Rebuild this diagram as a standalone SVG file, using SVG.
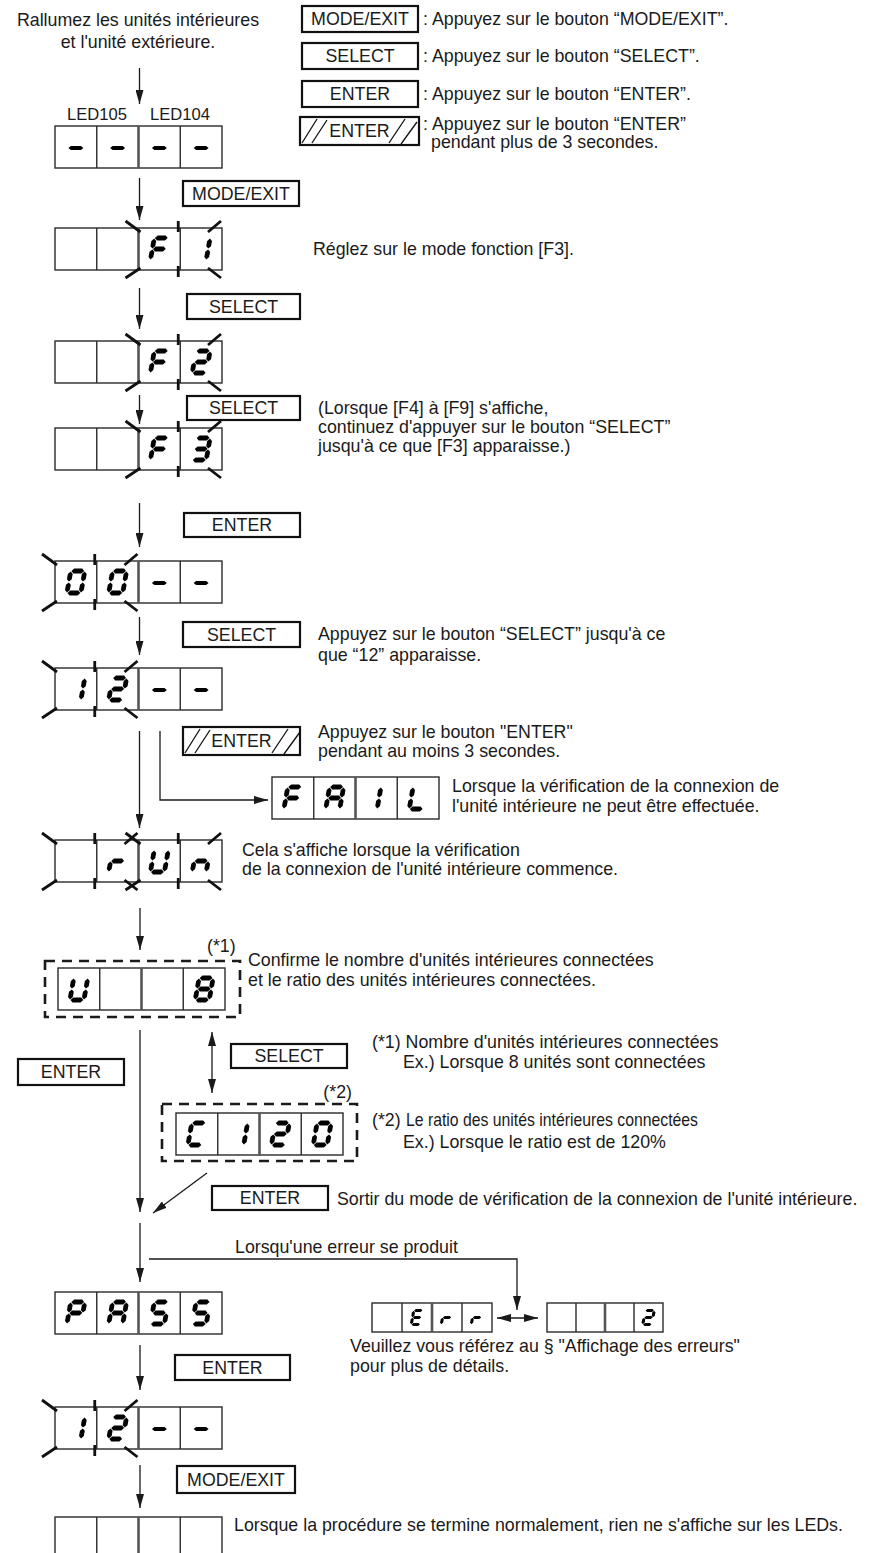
<svg xmlns="http://www.w3.org/2000/svg" xmlns:xlink="http://www.w3.org/1999/xlink" width="869" height="1553" viewBox="0 0 869 1553">
<style>
text{font-family:"Liberation Sans",Arial,Helvetica,sans-serif;font-size:17.8px;fill:#1a1a1a}
.c{text-anchor:middle}
.e{text-anchor:end}
.box{fill:#fff;stroke:#2a2a2a;stroke-width:1.4}
.dv{stroke:#2a2a2a;stroke-width:1.4;fill:none}
.dv2{stroke:#555;stroke-width:2.6;fill:none}
.btn{fill:#fff;stroke:#111;stroke-width:2.2}
.hat{stroke:#111;stroke-width:1.3;fill:none}
.ray{stroke:#111;stroke-width:2.8;fill:none}
.ln{fill:none;stroke:#1a1a1a;stroke-width:1.3}
.dash{fill:none;stroke:#1a1a1a;stroke-width:2.6;stroke-dasharray:10 7}
.seg{fill:#000}
</style>
<defs>
<marker id="ah" viewBox="0 0 14 8" refX="14" refY="4" markerWidth="14" markerHeight="8" markerUnits="userSpaceOnUse" orient="auto-start-reverse"><path d="M0 0L14 4L0 8z" fill="#1a1a1a"/></marker>
<path id="sa" d="M0.6 0L3 -2.4H11L13.4 0L11 2.4H3Z"/>
<path id="sg" d="M0.6 11L3 8.6H11L13.4 11L11 13.4H3Z"/>
<path id="sd" d="M0.6 22L3 19.6H11L13.4 22L11 24.4H3Z"/>
<path id="sf" d="M0 0.6L2.4 3V8.2L0 10.6L-2.4 8.2V3Z"/>
<path id="se" d="M0 11.4L2.4 13.8V19L0 21.4L-2.4 19V13.8Z"/>
<path id="sb" d="M14 0.6L16.4 3V8.2L14 10.6L11.6 8.2V3Z"/>
<path id="sc" d="M14 11.4L16.4 13.8V19L14 21.4L11.6 19V13.8Z"/>
<g id="gF" class="seg" transform="skewX(-10)"><use href="#sa"/><use href="#sf"/><use href="#se"/><use href="#sg"/></g>
<g id="g1" class="seg" transform="skewX(-10)"><use href="#sb"/><use href="#sc"/></g>
<g id="g2" class="seg" transform="skewX(-10)"><use href="#sa"/><use href="#sb"/><use href="#sg"/><use href="#se"/><use href="#sd"/></g>
<g id="g3" class="seg" transform="skewX(-10)"><use href="#sa"/><use href="#sb"/><use href="#sg"/><use href="#sc"/><use href="#sd"/></g>
<g id="g0" class="seg" transform="skewX(-10)"><use href="#sa"/><use href="#sb"/><use href="#sc"/><use href="#sd"/><use href="#se"/><use href="#sf"/></g>
<g id="gP" class="seg" transform="skewX(-10)"><use href="#sa"/><use href="#sb"/><use href="#sf"/><use href="#sg"/><use href="#se"/></g>
<g id="gA" class="seg" transform="skewX(-10)"><use href="#sa"/><use href="#sb"/><use href="#sc"/><use href="#se"/><use href="#sf"/><use href="#sg"/></g>
<g id="gS" class="seg" transform="skewX(-10)"><use href="#sa"/><use href="#sf"/><use href="#sg"/><use href="#sc"/><use href="#sd"/></g>
<g id="gU" class="seg" transform="skewX(-10)"><use href="#sb"/><use href="#sc"/><use href="#sd"/><use href="#se"/><use href="#sf"/></g>
<g id="g8" class="seg" transform="skewX(-10)"><use href="#sa"/><use href="#sb"/><use href="#sc"/><use href="#sd"/><use href="#se"/><use href="#sf"/><use href="#sg"/></g>
<g id="gC" class="seg" transform="skewX(-10)"><use href="#sa"/><use href="#sd"/><use href="#se"/><use href="#sf"/></g>
<g id="gr" class="seg" transform="skewX(-10)"><use href="#se"/><use href="#sg"/></g>
<g id="gn" class="seg" transform="skewX(-10)"><use href="#se"/><use href="#sg"/><use href="#sc"/></g>
<g id="gE" class="seg" transform="skewX(-10)"><use href="#sa"/><use href="#sd"/><use href="#se"/><use href="#sf"/><use href="#sg"/></g>
<g id="gL" class="seg" transform="skewX(-10)"><use href="#sd"/><use href="#se"/><use href="#sf"/></g>
<path id="dsh" class="seg" d="M-7.5 0L-5 -1.9H5L7.5 0L5 1.9H-5Z"/>
<g id="disp"><rect class="box" width="167" height="42"/><path class="dv" d="M41.75 0V42M125.25 0V42"/><path class="dv2" d="M83.5 0V42"/></g>
<path id="blk" class="ray" d="M-13 -7L2 4M69.5 4L82.5 -7M2 40L-13 50M69.5 40L82.5 50M39.75 -7V4M39.75 38V49"/>
<g id="hatch"><path class="hat" d="M2 26L17 2M12 26L27 3M89 26L105 2M101 27L117 5"/></g>
</defs>

<g id="title">
<text class="c" x="138" y="26">Rallumez les unités intérieures</text>
<text class="c" x="138" y="48">et l'unité extérieure.</text>
</g>

<g id="legend">
<rect class="btn" x="302" y="6" width="116" height="26"/><text class="c" x="360" y="25.3">MODE/EXIT</text>
<text x="423" y="25">: Appuyez sur le bouton “MODE/EXIT”.</text>
<rect class="btn" x="302" y="43" width="116" height="26"/><text class="c" x="360" y="62.3">SELECT</text>
<text x="423" y="62">: Appuyez sur le bouton “SELECT”.</text>
<rect class="btn" x="302" y="81" width="116" height="26"/><text class="c" x="360" y="100.3">ENTER</text>
<text x="423" y="100">: Appuyez sur le bouton “ENTER”.</text>
<g transform="translate(300,117)"><rect class="btn" width="119" height="28"/><use href="#hatch"/><text class="c" x="59.5" y="20.3">ENTER</text></g>
<text x="423" y="129.5">: Appuyez sur le bouton “ENTER”</text>
<text x="431" y="148">pendant plus de 3 secondes.</text>
</g>

<g id="led-start">
<text class="c" x="97" y="120" style="font-size:16.6px">LED105</text>
<text class="c" x="180" y="120" style="font-size:16.6px">LED104</text>
<g transform="translate(55,126)"><use href="#disp"/><use href="#dsh" x="20.9" y="22"/><use href="#dsh" x="62.6" y="22"/><use href="#dsh" x="104.4" y="22"/><use href="#dsh" x="146.1" y="22"/></g>
</g>

<g id="btn-mode1"><rect class="btn" x="183" y="181" width="116" height="25"/><text class="c" x="241" y="199.8">MODE/EXIT</text></g>

<g id="disp-F1" transform="translate(55,228)"><use href="#disp"/><use href="#blk" x="83.5"/><use href="#gF" x="99.3" y="10"/><use href="#g1" x="141.1" y="10"/></g>
<g id="note-F1"><text x="313" y="255">Réglez sur le mode fonction [F3].</text></g>

<g id="btn-sel1"><rect class="btn" x="187" y="294" width="113" height="25"/><text class="c" x="243.5" y="312.8">SELECT</text></g>

<g id="disp-F2" transform="translate(55,341)"><use href="#disp"/><use href="#blk" x="83.5"/><use href="#gF" x="99.3" y="10"/><use href="#g2" x="141.1" y="10"/></g>

<g id="btn-sel2"><rect class="btn" x="187" y="396" width="113" height="24"/><text class="c" x="243.5" y="414.3">SELECT</text></g>
<g id="note-F3">
<text x="318" y="414">(Lorsque [F4] à [F9] s'affiche,</text>
<text x="318" y="433">continuez d'appuyer sur le bouton “SELECT”</text>
<text x="318" y="452">jusqu'à ce que [F3] apparaisse.)</text>
</g>

<g id="disp-F3" transform="translate(55,428)"><use href="#disp"/><use href="#blk" x="83.5"/><use href="#gF" x="99.3" y="10"/><use href="#g3" x="141.1" y="10"/></g>

<g id="btn-ent1"><rect class="btn" x="184" y="513" width="116" height="24"/><text class="c" x="242" y="531.3">ENTER</text></g>

<g id="disp-00" transform="translate(55,561)"><use href="#disp"/><use href="#blk" x="0"/><use href="#g0" x="15.8" y="10"/><use href="#g0" x="57.6" y="10"/><use href="#dsh" x="104.4" y="22"/><use href="#dsh" x="146.1" y="22"/></g>

<g id="btn-sel3"><rect class="btn" x="183" y="622" width="117" height="25"/><text class="c" x="241.5" y="640.8">SELECT</text></g>
<g id="note-12">
<text x="318" y="640">Appuyez sur le bouton “SELECT” jusqu'à ce</text>
<text x="318" y="661">que “12” apparaisse.</text>
</g>

<g id="disp-12a" transform="translate(55,668)"><use href="#disp"/><use href="#blk" x="0"/><use href="#g1" x="15.8" y="10"/><use href="#g2" x="57.6" y="10"/><use href="#dsh" x="104.4" y="22"/><use href="#dsh" x="146.1" y="22"/></g>

<g id="btn-hold"><g transform="translate(183,727)"><rect class="btn" width="117" height="28"/><use href="#hatch"/><text class="c" x="58.5" y="20.3">ENTER</text></g></g>
<g id="note-hold">
<text x="318" y="738">Appuyez sur le bouton "ENTER"</text>
<text x="318" y="757">pendant au moins 3 secondes.</text>
</g>

<g id="disp-FAIL" transform="translate(272,777)"><use href="#disp"/><use href="#gF" x="15.8" y="10"/><use href="#gA" x="57.6" y="10"/><use href="#g1" x="95" y="10"/><use href="#gL" x="141.1" y="10"/></g>
<g id="note-FAIL">
<text x="452" y="792">Lorsque la vérification de la connexion de</text>
<text x="452" y="812">l'unité intérieure ne peut être effectuée.</text>
</g>

<g id="disp-rUn" transform="translate(55,840)"><use href="#disp"/><use href="#blk" x="0"/><use href="#blk" x="83.5"/><use href="#gr" x="57.6" y="10"/><use href="#gU" x="99.3" y="10"/><use href="#gn" x="141.1" y="10"/></g>
<g id="note-rUn">
<text x="242" y="856">Cela s'affiche lorsque la vérification</text>
<text x="242" y="875">de la connexion de l'unité intérieure commence.</text>
</g>

<g id="disp-U8">
<rect class="dash" x="45" y="961" width="195" height="56"/>
<g transform="translate(58,968)"><use href="#disp"/><use href="#gU" x="15.8" y="10"/><use href="#g8" x="141.1" y="10"/></g>
<text x="207" y="952">(*1)</text>
</g>
<g id="note-U8">
<text x="248" y="966">Confirme le nombre d'unités intérieures connectées</text>
<text x="248" y="986">et le ratio des unités intérieures connectées.</text>
</g>

<g id="btn-sel4"><rect class="btn" x="231" y="1044" width="116" height="24"/><text class="c" x="289" y="1062.3">SELECT</text></g>
<g id="btn-ent-left"><rect class="btn" x="18" y="1059" width="106" height="26"/><text class="c" x="71" y="1078.3">ENTER</text></g>

<g id="fn1">
<text x="372" y="1048">(*1) Nombre d'unités intérieures connectées</text>
<text x="403" y="1068">Ex.) Lorsque 8 unités sont connectées</text>
</g>

<g id="disp-C120">
<rect class="dash" x="162" y="1104" width="195" height="57"/>
<g transform="translate(176,1113)"><use href="#disp"/><use href="#gC" x="15.8" y="10"/><use href="#g1" x="57.6" y="10"/><use href="#g2" x="99.3" y="10"/><use href="#g0" x="141.1" y="10"/></g>
<text class="e" x="352" y="1098">(*2)</text>
</g>
<g id="fn2">
<text x="372" y="1126">(*2)</text>
<text x="406" y="1126" textLength="292" lengthAdjust="spacingAndGlyphs">Le ratio des unités intérieures connectées</text>
<text x="403" y="1148">Ex.) Lorsque le ratio est de 120%</text>
</g>

<g id="btn-ent-exit"><rect class="btn" x="212" y="1186" width="116" height="24"/><text class="c" x="270" y="1204.3">ENTER</text></g>
<g id="note-exit"><text x="337" y="1205">Sortir du mode de vérification de la connexion de l'unité intérieure.</text></g>

<g id="note-err-label"><text x="235" y="1253">Lorsqu'une erreur se produit</text></g>

<g id="disp-PASS" transform="translate(55,1292)"><use href="#disp"/><use href="#gP" x="15.8" y="10"/><use href="#gA" x="57.6" y="10"/><use href="#gS" x="99.3" y="10"/><use href="#gS" x="141.1" y="10"/></g>

<g id="disp-Err" transform="translate(372,1303)">
<rect class="box" width="120" height="29"/><path class="dv" d="M30 0V29M90 0V29"/><path class="dv2" d="M60 0V29"/>
<g transform="translate(45,14.5) scale(0.64)"><use href="#gE" x="-5.06" y="-11"/></g>
<g transform="translate(75,14.5) scale(0.64)"><use href="#gr" x="-5.06" y="-11"/></g>
<g transform="translate(105,14.5) scale(0.64)"><use href="#gr" x="-5.06" y="-11"/></g>
</g>
<g id="disp-2" transform="translate(547,1303)">
<rect class="box" width="116" height="29"/><path class="dv" d="M29 0V29M87 0V29"/><path class="dv2" d="M58 0V29"/>
<g transform="translate(101.5,14.5) scale(0.64)"><use href="#g2" x="-5.06" y="-11"/></g>
</g>
<g id="note-err">
<text x="350" y="1352">Veuillez vous référez au § "Affichage des erreurs"</text>
<text x="350" y="1372">pour plus de détails.</text>
</g>

<g id="btn-ent-pass"><rect class="btn" x="175" y="1355" width="115" height="25"/><text class="c" x="232.5" y="1373.8">ENTER</text></g>

<g id="disp-12b" transform="translate(55,1407)"><use href="#disp"/><use href="#blk" x="0"/><use href="#g1" x="15.8" y="10"/><use href="#g2" x="57.6" y="10"/><use href="#dsh" x="104.4" y="22"/><use href="#dsh" x="146.1" y="22"/></g>

<g id="btn-mode2"><rect class="btn" x="177" y="1466" width="118" height="27"/><text class="c" x="236" y="1485.8">MODE/EXIT</text></g>

<g id="disp-end" transform="translate(55,1517)"><use href="#disp"/></g>
<g id="note-end"><text x="234" y="1531">Lorsque la procédure se termine normalement, rien ne s'affiche sur les LEDs.</text></g>

<g id="connectors" class="ln">
<path class="ln" d="M139.5 68V104" marker-end="url(#ah)"/>
<path class="ln" d="M139.5 178V220" marker-end="url(#ah)"/>
<path class="ln" d="M139.5 288V329" marker-end="url(#ah)"/>
<path class="ln" d="M139.5 395V424" marker-end="url(#ah)"/>
<path class="ln" d="M139.5 503V547" marker-end="url(#ah)"/>
<path class="ln" d="M139.5 617V655" marker-end="url(#ah)"/>
<path class="ln" d="M139.5 731V828" marker-end="url(#ah)"/>
<path class="ln" d="M160 731V800H268" marker-end="url(#ah)"/>
<path class="ln" d="M140 908V950" marker-end="url(#ah)"/>
<path class="ln" d="M140 1030V1212" marker-end="url(#ah)"/>
<path class="ln" d="M212 1032V1093" marker-start="url(#ah)" marker-end="url(#ah)"/>
<path class="ln" d="M207 1173L153 1213" marker-end="url(#ah)"/>
<path class="ln" d="M140 1223V1282" marker-end="url(#ah)"/>
<path class="ln" d="M149 1259H517V1310" marker-end="url(#ah)"/>
<path class="ln" d="M497 1318H538" marker-start="url(#ah)" marker-end="url(#ah)"/>
<path class="ln" d="M140 1345V1390" marker-end="url(#ah)"/>
<path class="ln" d="M140 1465V1508" marker-end="url(#ah)"/>
</g>
</svg>
